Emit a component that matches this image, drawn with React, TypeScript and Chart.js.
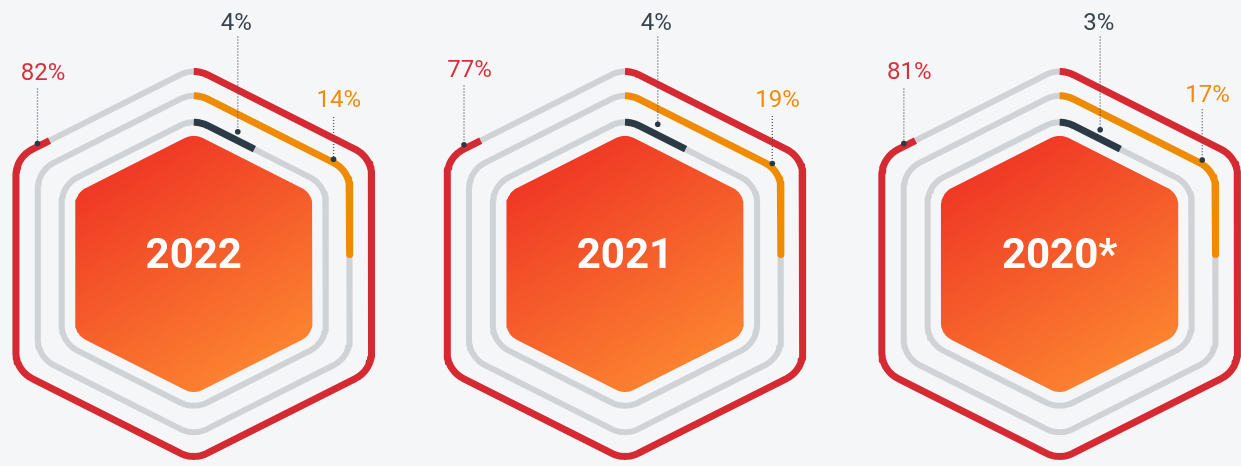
import React, { useEffect, useRef } from 'react';
import { Chart, registerables } from 'chart.js';

Chart.register(...registerables);

// ---------- data ----------
const years = ['2022', '2021', '2020*'];
const outerLabels = [82, 77, 81]; // red (outer) ring label, %
const middleLabels = [14, 19, 17]; // orange (middle) ring label, %
const innerLabels = [4, 4, 3]; // dark (inner) ring label, %
// share of each ring's perimeter that is coloured in the picture, %
const outerArc = [86.7, 86.7, 86.7];
const middleArc = [24.1, 24.1, 24.1];
const innerArc = [7.5, 7.5, 7.5];

// ---------- layout / style ----------
const W = 1241;
const H = 466;
const CENTERS = [191, 625, 1062.5];
const CY = 264.5;
const HALF_W = 179;
const HALF_H = 199.5;
const SLOPE = 0.51;
const RING_OFFSETS = [0, 22, 46];
const FILL_OFFSET = 59.5;
const RING_RADIUS = 30;
const FILL_RADIUS = 20;
const RING_COLORS = ['#d62a33', '#ef8b00', '#2c3a46'];
const TEXT_COLORS = ['#d7303a', '#ef8c0c', '#37434e'];
const TRACK = '#d0d3d6';
const BG = '#f5f6f8';
// per chart, per ring: [leaderX, leaderTop, dotY, labelY]
const ANCHORS = [
  [[33.7, 86, 142, 71], [331.7, 115, 158, 99], [235.3, 33, 130, 20]],
  [[463, 83, 143.3, 68.3], [773.3, 114, 162.3, 99], [658, 33, 122.3, 20]],
  [[905.7, 86, 142, 70.7], [1206, 107, 158.7, 93.3], [1103.3, 33, 128, 20]],
];
const LABEL_DX = [5.5, 5.3, -1.5];

type P = { x: number; y: number };

function hexVertices(cx: number, cy: number, d: number): P[] {
  const w = HALF_W - d;
  const h = HALF_H - d * Math.sqrt(1 + SLOPE * SLOPE);
  const s = h - w * SLOPE;
  return [
    { x: cx, y: cy - h },
    { x: cx + w, y: cy - s },
    { x: cx + w, y: cy + s },
    { x: cx, y: cy + h },
    { x: cx - w, y: cy + s },
    { x: cx - w, y: cy - s },
  ];
}

function norm(x: number, y: number) {
  const l = Math.hypot(x, y);
  return { x: x / l, y: y / l };
}

function cornerArc(p: P, v: P, n: P, r: number, steps: number): P[] {
  const u1 = norm(p.x - v.x, p.y - v.y);
  const u2 = norm(n.x - v.x, n.y - v.y);
  const ang = Math.acos(u1.x * u2.x + u1.y * u2.y);
  const half = ang / 2;
  const t = r / Math.tan(half);
  const bis = norm(u1.x + u2.x, u1.y + u2.y);
  const dc = r / Math.sin(half);
  const c = { x: v.x + bis.x * dc, y: v.y + bis.y * dc };
  const t1 = { x: v.x + u1.x * t, y: v.y + u1.y * t };
  const t2 = { x: v.x + u2.x * t, y: v.y + u2.y * t };
  const a1 = Math.atan2(t1.y - c.y, t1.x - c.x);
  let a2 = Math.atan2(t2.y - c.y, t2.x - c.x);
  while (a2 < a1) a2 += Math.PI * 2;
  const out: P[] = [];
  for (let k = 0; k <= steps; k++) {
    const a = a1 + ((a2 - a1) * k) / steps;
    out.push({ x: c.x + r * Math.cos(a), y: c.y + r * Math.sin(a) });
  }
  return out;
}

function roundedHex(cx: number, cy: number, d: number, r: number): P[] {
  const v = hexVertices(cx, cy, d);
  const steps = 16;
  const arcs = v.map((pt, i) => cornerArc(v[(i + 5) % 6], pt, v[(i + 1) % 6], r, steps));
  const top = arcs[0];
  return [
    ...top.slice(steps / 2),
    ...arcs[1],
    ...arcs[2],
    ...arcs[3],
    ...arcs[4],
    ...arcs[5],
    ...top.slice(0, steps / 2 + 1),
  ];
}

function partial(pts: P[], frac: number): P[] {
  let total = 0;
  for (let i = 1; i < pts.length; i++) total += Math.hypot(pts[i].x - pts[i - 1].x, pts[i].y - pts[i - 1].y);
  const target = total * Math.min(1, Math.max(0, frac));
  const out: P[] = [pts[0]];
  let acc = 0;
  for (let i = 1; i < pts.length; i++) {
    const seg = Math.hypot(pts[i].x - pts[i - 1].x, pts[i].y - pts[i - 1].y);
    if (acc + seg >= target) {
      const f = seg === 0 ? 0 : (target - acc) / seg;
      out.push({ x: pts[i - 1].x + (pts[i].x - pts[i - 1].x) * f, y: pts[i - 1].y + (pts[i].y - pts[i - 1].y) * f });
      return out;
    }
    acc += seg;
    out.push(pts[i]);
  }
  return out;
}

const ringArcs = [outerArc, middleArc, innerArc];
const ringLabels = [outerLabels, middleLabels, innerLabels];

function buildDatasets() {
  const ds: any[] = [];
  const dots: P[] = [];
  years.forEach((_, i) => {
    const cx = CENTERS[i];
    ds.push({
      data: roundedHex(cx, CY, FILL_OFFSET, FILL_RADIUS),
      fill: 'shape',
      borderWidth: 0,
      borderColor: 'transparent',
      backgroundColor: (c: any) => {
        const chart = c.chart;
        if (!chart.chartArea || !chart.scales.x) return '#f4582a';
        const xs = chart.scales.x;
        const ys = chart.scales.y;
        const g = chart.ctx.createLinearGradient(
          xs.getPixelForValue(cx - 75),
          ys.getPixelForValue(CY - 125),
          xs.getPixelForValue(cx + 75),
          ys.getPixelForValue(CY + 130)
        );
        g.addColorStop(0, '#ee3124');
        g.addColorStop(1, '#fd8b31');
        return g;
      },
      order: 6,
    });
    RING_OFFSETS.forEach((d, j) => {
      const path = roundedHex(cx, CY, d, RING_RADIUS);
      ds.push({ data: path, borderColor: TRACK, borderWidth: 6, fill: false, order: 5 });
      ds.push({
        data: partial(path, ringArcs[j][i] / 100),
        borderColor: RING_COLORS[j],
        borderWidth: 7,
        fill: false,
        order: 4,
      });
      const [lx, top, dotY] = ANCHORS[i][j];
      ds.push({
        data: [
          { x: lx, y: top },
          { x: lx, y: dotY },
        ],
        borderColor: '#4a5560',
        borderWidth: 1.3,
        borderDash: [1, 2],
        fill: false,
        order: 3,
      });
      dots.push({ x: lx, y: dotY });
    });
  });
  ds.push({
    data: dots,
    showLine: false,
    pointRadius: 2.8,
    pointBackgroundColor: '#2b3945',
    pointBorderWidth: 0,
    order: 1,
  });
  return ds;
}

const textPlugin = {
  id: 'hexText',
  afterDatasetsDraw(chart: any) {
    const ctx = chart.ctx;
    const xs = chart.scales.x;
    const ys = chart.scales.y;
    ctx.save();
    ctx.textAlign = 'center';
    ctx.textBaseline = 'middle';
    years.forEach((yr, i) => {
      ctx.font = 'bold 42px Roboto';
      ctx.fillStyle = '#ffffff';
      ctx.fillText(yr, xs.getPixelForValue(CENTERS[i]), ys.getPixelForValue(CY - 7));
      ringLabels.forEach((arr, j) => {
        const [lx, , , ly] = ANCHORS[i][j];
        ctx.font = '24px Roboto';
        ctx.fillStyle = TEXT_COLORS[j];
        ctx.fillText(`${arr[i]}%`, xs.getPixelForValue(lx + LABEL_DX[j]), ys.getPixelForValue(ly));
      });
    });
    ctx.restore();
  },
};

export default function App() {
  const ref = useRef<HTMLCanvasElement>(null);
  useEffect(() => {
    document.body.style.margin = '0';
    document.body.style.background = BG;
    const chart = new Chart(ref.current as HTMLCanvasElement, {
      type: 'line',
      data: { datasets: buildDatasets() },
      options: {
        animation: false,
        responsive: false,
        events: [],
        layout: { padding: 0 },
        elements: {
          point: { radius: 0 },
          line: { tension: 0, borderCapStyle: 'butt', borderJoinStyle: 'round' },
        },
        datasets: { line: { clip: false, spanGaps: true } } as any,
        plugins: { legend: { display: false }, tooltip: { enabled: false } },
        scales: {
          x: { type: 'linear', min: 0, max: W, display: false },
          y: { type: 'linear', min: 0, max: H, reverse: true, display: false },
        },
      },
      plugins: [textPlugin],
    });
    return () => chart.destroy();
  }, []);
  return (
    <div style={{ width: W, height: H, background: BG }}>
      <canvas ref={ref} width={W} height={H} style={{ display: 'block' }} />
    </div>
  );
}
